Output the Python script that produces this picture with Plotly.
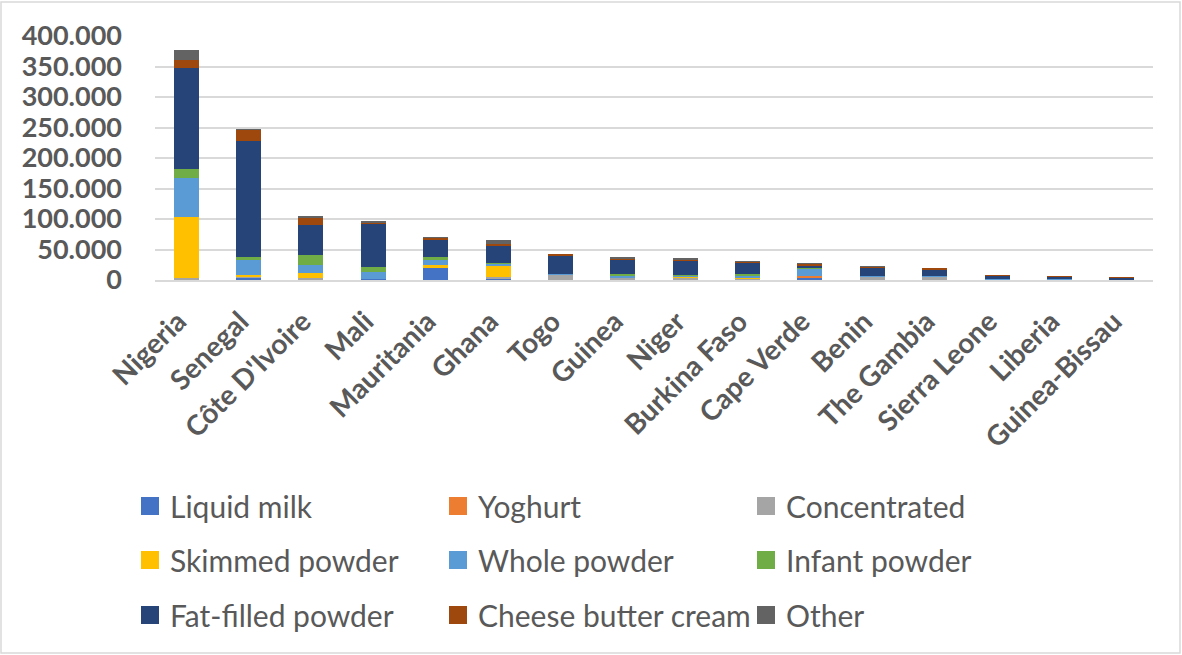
import plotly.graph_objects as go

countries = ["Nigeria", "Senegal", "Côte D'Ivoire", "Mali", "Mauritania", "Ghana", "Togo",
             "Guinea", "Niger", "Burkina Faso", "Cape Verde", "Benin", "The Gambia",
             "Sierra Leone", "Liberia", "Guinea-Bissau"]

liquid_milk   = [0, 4000, 500, 1000, 19700, 2500, 300, 1000, 1000, 500, 2700, 300, 0, 0, 0, 0]
yoghurt       = [0, 500, 0, 0, 0, 500, 0, 0, 0, 0, 4000, 0, 0, 0, 0, 0]
concentrated  = [3000, 500, 2500, 0, 500, 1500, 8100, 2500, 2500, 2000, 0, 5000, 5500, 700, 500, 300]
skimmed       = [99500, 3000, 8200, 0, 5000, 19000, 0, 500, 1500, 1500, 0, 0, 0, 0, 0, 0]
whole         = [64000, 25000, 14000, 12700, 9200, 3300, 1600, 3000, 2500, 4000, 12000, 1600, 500, 1500, 1000, 700]
infant        = [16000, 4000, 15500, 7000, 2700, 500, 0, 2500, 500, 2500, 1000, 0, 0, 0, 0, 0]
fat_filled    = [165000, 190500, 49500, 70500, 30000, 28500, 30400, 23500, 23800, 17500, 2500, 13000, 12000, 5000, 4000, 2500]
cheese        = [12600, 18600, 11500, 3500, 2500, 3800, 2000, 2500, 2000, 2500, 4300, 2500, 1500, 1000, 1000, 800]
other         = [16400, 500, 3300, 1000, 500, 6500, 0, 1000, 1500, 500, 500, 300, 0, 0, 0, 0]

series = [
    ("Liquid milk", liquid_milk, "#4472C4", "legend"),
    ("Yoghurt", yoghurt, "#ED7D31", "legend"),
    ("Concentrated", concentrated, "#A5A5A5", "legend"),
    ("Skimmed powder", skimmed, "#FFC000", "legend2"),
    ("Whole powder", whole, "#5B9BD5", "legend2"),
    ("Infant powder", infant, "#70AD47", "legend2"),
    ("Fat-filled powder", fat_filled, "#264478", "legend3"),
    ("Cheese butter cream", cheese, "#9E480E", "legend3"),
    ("Other", other, "#636363", "legend3"),
]

y_ticks = list(range(0, 400001, 50000))

fig = go.Figure()
for name, vals, color, lg in series:
    fig.add_trace(go.Bar(x=countries, y=vals, name=name, marker_color=color,
                         marker_line_width=0, showlegend=False, legendgroup=name))
# legend entries (square swatches)
for name, vals, color, lg in series:
    fig.add_trace(go.Scatter(x=[None], y=[None], mode="markers", name=name, legend=lg,
                             legendgroup=name,
                             marker=dict(symbol="square", size=16, color=color,
                                         line=dict(color=color, width=2))))

W, H = 1182, 655
L, R, T, B = 155, 29, 36, 375
pw, ph = W - L - R, H - T - B

def px_x(p):
    return (p - L) / pw

def px_y(p):
    return (H - B - p) / ph

grey = "#595959"
leg_common = dict(orientation="h", xanchor="left", yanchor="middle",
                  font=dict(family="Lato", size=30, color=grey),
                  entrywidth=263, entrywidthmode="pixels", itemsizing="trace",
                  bgcolor="rgba(0,0,0,0)", traceorder="normal")

fig.update_layout(
    width=W, height=H,
    margin=dict(l=L, r=R, t=T, b=B, autoexpand=False),
    barmode="stack", bargap=0.6,
    separators=",.",
    plot_bgcolor="white", paper_bgcolor="white",
    font=dict(family="Lato", color=grey),
    legend=dict(x=px_x(130), y=px_y(506), **leg_common),
    legend2=dict(x=px_x(130), y=px_y(560), **leg_common),
    legend3=dict(x=px_x(130), y=px_y(615), **leg_common),
    xaxis=dict(tickangle=-45, tickfont=dict(family="Lato", size=28, color=grey, weight="bold"),
               showline=True, linecolor="#d9d9d9", linewidth=2, showgrid=False, ticks="",
               ticklabelstandoff=12, ticklabelshift=-8, automargin=False),
    yaxis=dict(range=[0, 400000], tickvals=y_ticks, tickformat=",d",
               tickfont=dict(family="Lato", size=27, color=grey, weight="bold"),
               showgrid=True, gridcolor="#d9d9d9", gridwidth=2, zeroline=False,
               showline=False, ticks="", ticklabelstandoff=32, automargin=False),
    shapes=[dict(type="rect", xref="paper", yref="paper",
                 x0=px_x(1), x1=px_x(1180), y0=px_y(653), y1=px_y(2),
                 line=dict(color="#d9d9d9", width=1.5), fillcolor="rgba(0,0,0,0)", layer="below")],
)

fig.write_html("out.html", config={"displayModeBar": False},
               post_script="document.body.style.margin='0';")
